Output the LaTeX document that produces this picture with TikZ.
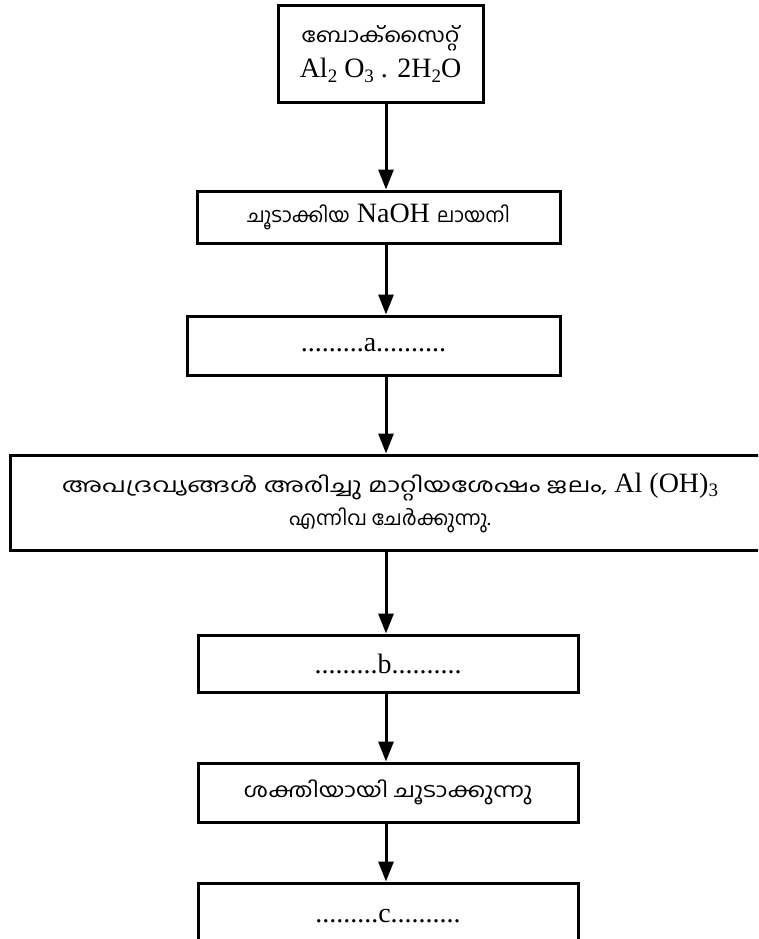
\documentclass[tikz,border=0pt]{standalone}
\usepackage{fontspec}
\usepackage{graphicx}
\setmainfont{Liberation Serif}
\newfontfamily\mlfont[Script=Malayalam]{Hind Kochi}
\usetikzlibrary{arrows.meta}

\newlength{\du}
\setlength{\du}{1pt}

\newcommand{\ml}[1]{{\mlfont\fontsize{20}{26}\selectfont #1}}
\newcommand{\chemsub}[1]{\raisebox{-0.38ex}{\fontsize{19}{19}\selectfont #1}}

\begin{document}
\begin{tikzpicture}[x=\du,y=-\du,
  box/.style={draw,line width=3\du,inner sep=0pt,align=center,
    font=\fontsize{28}{33}\selectfont},
  flow/.style={line width=3\du,-{Triangle[width=15pt,length=20pt]}}]
\clip (0,0) rectangle (758,939);
\coordinate (axis) at (386,0);
% boxes
\node[box,minimum width=205\du,minimum height=97\du] (bauxite) at (380.5,54.5)
  {\scalebox{1.15}[1]{\ml{ബോക്സൈറ്റ്}}\\[2pt]Al\chemsub{2} O\chemsub{3} . 2H\chemsub{2}O};
\node[box,minimum width=363\du,minimum height=52\du] (naoh) at (378.5,217)
  {\ml{ചൂടാക്കിയ} NaOH \ml{ലായനി}};
\node[box,minimum width=373\du,minimum height=59\du] (stepa) at (373.5,345.5)
  {.........a..........};
\node[box,minimum width=760\du,minimum height=95\du] (filter) at (390,502.5)
  {\scalebox{1.3}[1]{\ml{അപദ്രവ്യങ്ങൾ അരിച്ചു മാറ്റിയശേഷം ജലം,}} Al (OH)\chemsub{3}\\
   \ml{എന്നിവ ചേർക്കുന്നു.}};
\node[box,minimum width=380\du,minimum height=57\du] (stepb) at (388,663.5)
  {.........b..........};
\node[box,minimum width=380\du,minimum height=59\du] (heat) at (388,792.5)
  {\scalebox{1.2}[1]{\ml{ശക്തിയായി ചൂടാക്കുന്നു}}};
\node[box,minimum width=380\du,minimum height=67\du] (stepc) at (388,916.5)
  {.........c..........};
% arrows
\draw[flow] (bauxite.south -| axis) -- (naoh.north -| axis);
\draw[flow] (naoh.south -| axis) -- (stepa.north -| axis);
\draw[flow] (stepa.south -| axis) -- (filter.north -| axis);
\draw[flow] (filter.south -| axis) -- (stepb.north -| axis);
\draw[flow] (stepb.south -| axis) -- (heat.north -| axis);
\draw[flow] (heat.south -| axis) -- (stepc.north -| axis);
\end{tikzpicture}
\end{document}
